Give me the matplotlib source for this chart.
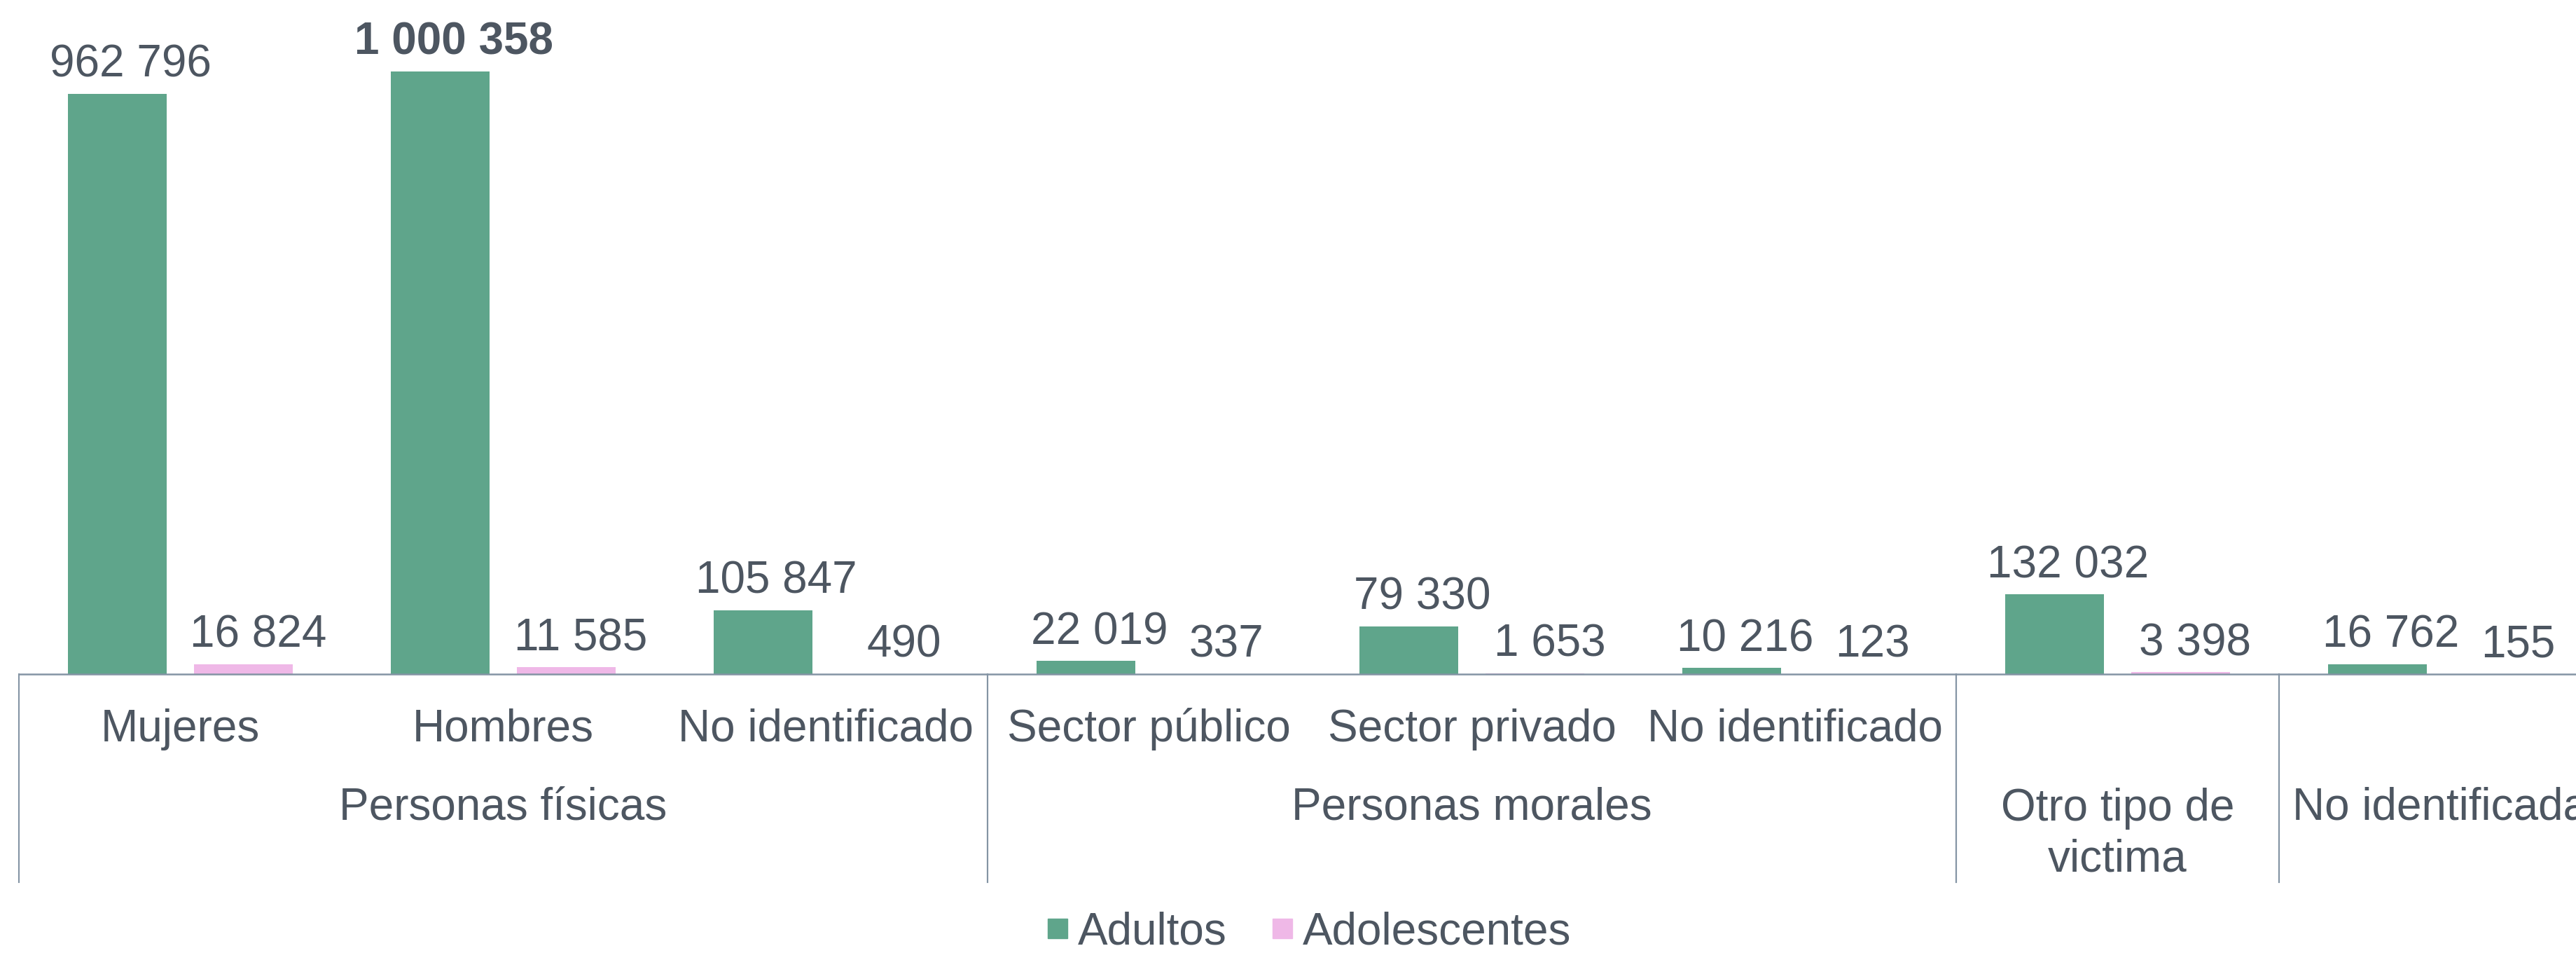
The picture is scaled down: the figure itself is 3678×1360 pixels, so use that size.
import numpy as np
import matplotlib
matplotlib.use('Agg')
import matplotlib.pyplot as plt
from matplotlib.lines import Line2D
import matplotlib.transforms as mtrans

plt.rcParams['font.family'] = ['Liberation Sans', 'DejaVu Sans']

# datos
subcats = ['Mujeres', 'Hombres', 'No identificado',
           'Sector público', 'Sector privado', 'No identificado', '', '']
groups = ['Personas físicas', 'Personas morales', 'Otro tipo de\nvictima', 'No identificada']
group_span = [(0, 2), (3, 5), (6, 6), (7, 7)]
adultos = [962796, 1000358, 105847, 22019, 79330, 10216, 132032, 16762]
adolescentes = [16824, 11585, 490, 337, 1653, 123, 3398, 155]
series_names = ['Adultos', 'Adolescentes']

green = '#5FA58B'
pink = '#EFB8E7'
txt = '#4D5661'
line_c = '#8494A4'
fs = 46

fig = plt.figure(figsize=(36.78, 13.6), dpi=100)
ax = fig.add_axes([27 / 3678, 1 - 962 / 1360, 8 * 461 / 3678, 962 / 1360])

x = np.arange(len(subcats))
w = 0.305
off = 0.195
ax.bar(x - off, adultos, width=w, color=green)
ax.bar(x + off, adolescentes, width=w, color=pink)

ax.set_xlim(-0.5, 7.5)
ax.set_ylim(0, 1.1186e6)

def fmt(v):
    return f"{v:,}".replace(",", " ")

imax = int(np.argmax(adultos))
for i in range(len(subcats)):
    ax.annotate(fmt(adultos[i]), (x[i] - off, adultos[i]), xytext=(19, 24),
                textcoords='offset pixels', ha='center', va='baseline',
                fontsize=fs, color=txt,
                fontweight='bold' if i == imax else 'normal')
    ax.annotate(fmt(adolescentes[i]), (x[i] + off, adolescentes[i]), xytext=(21, 24),
                textcoords='offset pixels', ha='center', va='baseline',
                fontsize=fs, color=txt)

# eje de categorias en dos niveles
for i, s in enumerate(subcats):
    if s:
        ax.annotate(s, (x[i], 0), xycoords=('data', 'axes fraction'),
                    xytext=(0, -96), textcoords='offset pixels',
                    ha='center', va='baseline', fontsize=fs, color=txt)
for g, (a, b) in zip(groups, group_span):
    nl = g.count('\n')
    ax.annotate(g, ((a + b) / 2, 0), xycoords=('data', 'axes fraction'),
                xytext=(0, -208 - 73 * nl), textcoords='offset pixels',
                ha='center', va='baseline', fontsize=fs, color=txt,
                linespacing=1.25)

trans = mtrans.blended_transform_factory(ax.transData, ax.transAxes)
for a, b in group_span:
    for xb in (a - 0.5, b + 0.5):
        ax.plot([xb, xb], [0, -297 / 962], transform=trans, color=line_c,
                linewidth=1.5, clip_on=False)

for s in ['top', 'right', 'left']:
    ax.spines[s].set_visible(False)
ax.spines['bottom'].set_color(line_c)
ax.spines['bottom'].set_linewidth(1.8)
ax.set_xticks([])
ax.set_yticks([])

handles = [Line2D([], [], marker='s', linestyle='none', markersize=20,
                  markerfacecolor=c, markeredgecolor=c) for c in (green, pink)]
fig.legend(handles, series_names, loc='lower center', bbox_to_anchor=(0.508, -0.024),
           ncol=2, frameon=False, fontsize=fs, labelcolor=txt,
           handlelength=0.5, handletextpad=0.2, columnspacing=1.0, borderpad=0)

plt.savefig('out.png', dpi=100)
